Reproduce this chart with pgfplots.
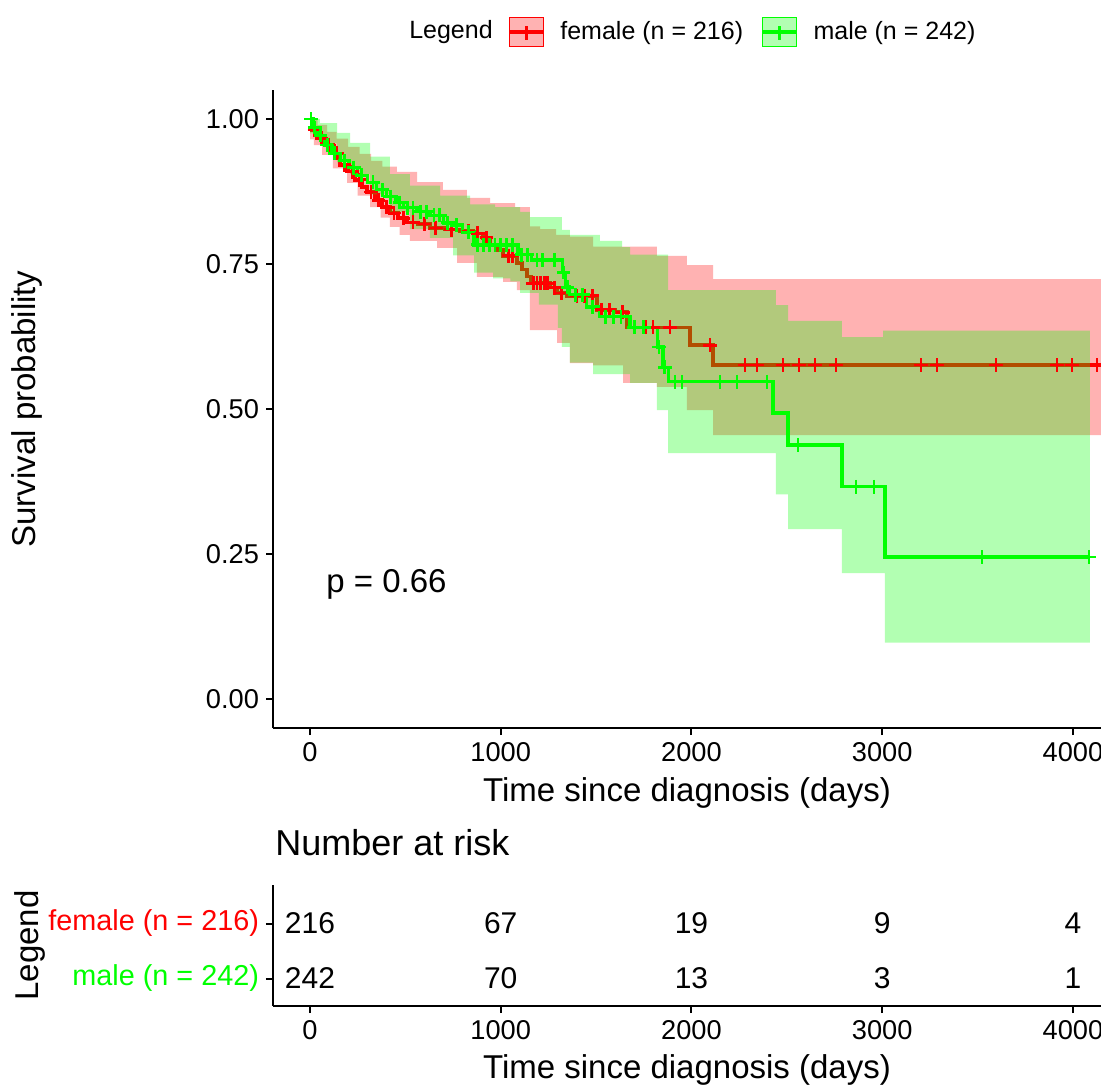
\documentclass[border=0pt]{standalone}
\usepackage{pgfplots}
\pgfplotsset{compat=1.18}
\usepackage{pgfplotstable}
\usepgfplotslibrary{fillbetween}
\usepackage{fontspec}
\setmainfont{Liberation Sans}
\tikzset{fill between/on layer=main}

\newcommand\tickfont{\fontsize{13.6pt}{16pt}\selectfont}
\newcommand\titlefont{\fontsize{16.5pt}{19pt}\selectfont}
\newcommand\legfont{\fontsize{12.5pt}{15pt}\selectfont}
\newcommand\riskfont{\fontsize{15pt}{18pt}\selectfont}
\newcommand\rowfont{\fontsize{14.4pt}{17pt}\selectfont}
\newcommand\bigtitlefont{\fontsize{18pt}{21pt}\selectfont}

\pgfplotstableread{
t s
0 1.000
8 0.981
42 0.967
79 0.955
121 0.941
157 0.921
199 0.909
236 0.895
273 0.883
299 0.874
341 0.860
377 0.848
419 0.838
461 0.829
509 0.822
566 0.819
629 0.812
708 0.809
786 0.807
855 0.803
907 0.795
944 0.784
980 0.774
1012 0.764
1085 0.752
1111 0.740
1138 0.728
1159 0.717
1258 0.709
1295 0.700
1347 0.695
1505 0.671
1600 0.667
1662 0.641
1992 0.610
2113 0.576
4200 0.576
}\redKM

\pgfplotstableread{
t s
25 0.981
60 0.967
100 0.955
140 0.941
180 0.921
220 0.909
260 0.895
320 0.874
360 0.860
400 0.848
440 0.838
490 0.829
540 0.822
600 0.819
660 0.812
740 0.809
830 0.807
880 0.803
925 0.795
1040 0.764
1060 0.764
1170 0.717
1190 0.717
1210 0.717
1230 0.717
1245 0.717
1280 0.709
1320 0.700
1400 0.695
1440 0.695
1480 0.695
1530 0.671
1570 0.671
1640 0.667
1700 0.641
1760 0.641
1798 0.641
1887 0.641
2097 0.610
2280 0.576
2343 0.576
2480 0.576
2564 0.576
2647 0.576
2758 0.576
3203 0.576
3287 0.576
3596 0.576
3916 0.576
3995 0.576
4126 0.576
}\redCens

\pgfplotstableread{
t s
0 1.000
15 0.985
40 0.972
75 0.955
110 0.941
160 0.928
205 0.916
250 0.903
300 0.891
350 0.878
400 0.866
450 0.856
490 0.847
560 0.840
629 0.834
700 0.821
750 0.817
800 0.805
860 0.783
1090 0.766
1160 0.757
1325 0.735
1340 0.710
1360 0.697
1450 0.676
1520 0.659
1678 0.641
1822 0.607
1850 0.572
1880 0.547
2427 0.493
2506 0.438
2789 0.366
3014 0.245
4089 0.245
}\greenKM

\pgfplotstableread{
t s
5 1.000
25 0.985
55 0.972
90 0.955
130 0.941
180 0.928
230 0.916
270 0.903
330 0.891
380 0.878
420 0.866
470 0.856
510 0.847
540 0.847
580 0.840
610 0.840
650 0.834
680 0.834
720 0.821
770 0.817
830 0.805
880 0.783
910 0.783
940 0.783
970 0.783
1000 0.783
1030 0.783
1060 0.783
1110 0.766
1140 0.766
1190 0.757
1220 0.757
1280 0.757
1330 0.735
1350 0.710
1390 0.697
1430 0.697
1480 0.676
1550 0.659
1590 0.659
1630 0.659
1700 0.641
1750 0.641
1830 0.607
1860 0.572
1913 0.547
1950 0.547
2149 0.547
2239 0.547
2396 0.547
2558 0.438
2862 0.366
2957 0.366
3523 0.245
4084 0.245
}\greenCens

\pgfplotstableread{
t s
0 1.000
40 0.990
90 0.978
140 0.966
200 0.952
260 0.940
320 0.928
380 0.918
456 0.909
561 0.891
697 0.878
823 0.864
944 0.855
1075 0.848
1153 0.815
1206 0.810
1290 0.800
1363 0.797
1484 0.780
1819 0.764
1976 0.748
2113 0.724
4200 0.724
}\redUp

\pgfplotstableread{
t s
0 0.965
20 0.955
63 0.938
120 0.915
194 0.890
250 0.868
315 0.848
370 0.830
419 0.814
470 0.800
524 0.790
666 0.778
771 0.752
875 0.728
1012 0.719
1085 0.705
1153 0.636
1295 0.614
1363 0.579
1484 0.575
1641 0.545
1819 0.538
1976 0.498
2113 0.455
4200 0.455
}\redLo

\pgfplotstableread{
t s
0 1.000
52 0.993
142 0.976
210 0.959
315 0.935
419 0.905
524 0.885
682 0.868
839 0.853
970 0.848
1101 0.840
1153 0.831
1321 0.809
1363 0.800
1520 0.790
1636 0.779
1678 0.766
1877 0.705
2443 0.679
2506 0.652
2789 0.624
3004 0.635
4089 0.635
}\greenUp

\pgfplotstableread{
t s
0 0.975
52 0.958
142 0.925
210 0.905
315 0.870
419 0.840
524 0.810
629 0.795
750 0.765
860 0.735
960 0.725
1050 0.720
1101 0.700
1200 0.680
1300 0.640
1321 0.607
1363 0.580
1484 0.560
1678 0.545
1819 0.498
1877 0.424
2443 0.353
2506 0.293
2789 0.217
3014 0.097
4089 0.097
}\greenLo

\pgfplotstableread{
t row n
0 2 216
1000 2 67
2000 2 19
3000 2 9
4000 2 4
0 1 242
1000 1 70
2000 1 13
3000 1 3
4000 1 1
}\riskTable

\pgfplotsset{
  kmaxis/.style={
    scale only axis, width=414pt,
    xmin=-194, xmax=4147,
    axis lines*=left, axis line style={-, line width=1pt, black},
    tick align=outside, major tick length=3.5pt,
    every tick/.style={black, line width=1pt},
    xtick={0,1000,2000,3000,4000},
    scaled ticks=false,
    /pgf/number format/assume math mode=true,
    x tick label style={/pgf/number format/set thousands separator={}},
    ticklabel style={font=\tickfont, text=black},
    label style={font=\titlefont},
  }
}

\begin{document}
\begin{tikzpicture}
\begin{axis}[kmaxis,
  at={(0pt,0pt)}, anchor=north west, height=319pt,
  ymin=-0.05, ymax=1.05,
  ytick={0,0.25,0.5,0.75,1},
  y tick label style={/pgf/number format/fixed, /pgf/number format/fixed zerofill, /pgf/number format/precision=2},
  xlabel={Time since diagnosis (days)}, ylabel={Survival probability},
  xlabel style={at={(axis description cs:0.5,-0.1019)}, anchor=center},
  ylabel style={at={(axis description cs:-0.2971,0.5)}, anchor=center},
  legend columns=2,
  legend cell align=left,
  legend style={draw=none, fill=none, inner sep=0pt, outer sep=0pt,
    at={(0.2838,1.0909)}, anchor=west, font=\legfont,
    nodes={inner sep=0pt},
    /tikz/every odd column/.append style={column sep=7.5pt},
    /tikz/every even column/.append style={column sep=9pt}},
]
\addlegendimage{legend image code/.code={
  \fill[red, fill opacity=0.3] (0pt,-7.25pt) rectangle (17pt,7.25pt);
  \draw[red, line width=1.7pt] (0pt,0pt) -- (17pt,0pt);
  \draw[red, line width=1.4pt] (8.5pt,-4pt) -- (8.5pt,3pt);}}
\addlegendentry{female (n = 216)}
\addlegendimage{legend image code/.code={
  \fill[green, fill opacity=0.3] (0pt,-7.25pt) rectangle (17pt,7.25pt);
  \draw[green, line width=1.7pt] (0pt,0pt) -- (17pt,0pt);
  \draw[green, line width=1.4pt] (8.5pt,-4pt) -- (8.5pt,3pt);}}
\addlegendentry{male (n = 242)}

\addplot[draw=none, const plot, name path=rup, forget plot] table[x=t, y=s] {\redUp};
\addplot[draw=none, const plot, name path=rlo, forget plot] table[x=t, y=s] {\redLo};
\addplot[fill=red, fill opacity=0.3, draw=none, forget plot] fill between[of=rup and rlo];
\addplot[red, line width=1.7pt, const plot, forget plot] table[x=t, y=s] {\redKM};

\addplot[draw=none, const plot, name path=gup, forget plot] table[x=t, y=s] {\greenUp};
\addplot[draw=none, const plot, name path=glo, forget plot] table[x=t, y=s] {\greenLo};
\addplot[fill=green, fill opacity=0.3, draw=none, forget plot] fill between[of=gup and glo];
\addplot[green, line width=1.7pt, const plot, forget plot] table[x=t, y=s] {\greenKM};

\addplot[only marks, red, mark=+, mark size=3.4pt, mark options={line width=1.4pt}, forget plot] table[x=t, y=s] {\redCens};
\addplot[only marks, green, mark=+, mark size=3.4pt, mark options={line width=1.4pt}, forget plot] table[x=t, y=s] {\greenCens};

\node[anchor=west, inner sep=0pt, font=\titlefont] at (axis cs:84,0.197) {p = 0.66};
\end{axis}

\node[anchor=center, inner sep=0pt, font=\legfont] at (89pt,29pt) {Legend};

\begin{axis}[kmaxis,
  at={(0pt,-397.5pt)}, anchor=north west, height=60.5pt,
  ymin=0.5, ymax=2.7,
  ytick={1,2},
  yticklabels={{\textcolor{green}{male (n = 242)}},{\textcolor{red}{female (n = 216)}}},
  y tick label style={font=\rowfont},
  xlabel={Time since diagnosis (days)}, ylabel={Legend},
  xlabel style={at={(axis description cs:0.5,-0.5289)}, anchor=center},
  ylabel style={at={(axis description cs:-0.2935,0.5)}, anchor=center},
  title={Number at risk},
  title style={at={(axis description cs:0.0024,1.248)}, anchor=west, font=\bigtitlefont, inner sep=0pt},
]
\addplot[draw=none, mark=none, nodes near coords, point meta=explicit symbolic,
  nodes near coords align=center,
  nodes near coords style={anchor=center, font=\riskfont, inner sep=0pt, text=black}]
  table[x=t, y=row, meta=n] {\riskTable};
\end{axis}

\pgfresetboundingbox
\useasboundingbox (-136.5pt,45pt) rectangle (414pt,-500pt);
\end{tikzpicture}
\end{document}
